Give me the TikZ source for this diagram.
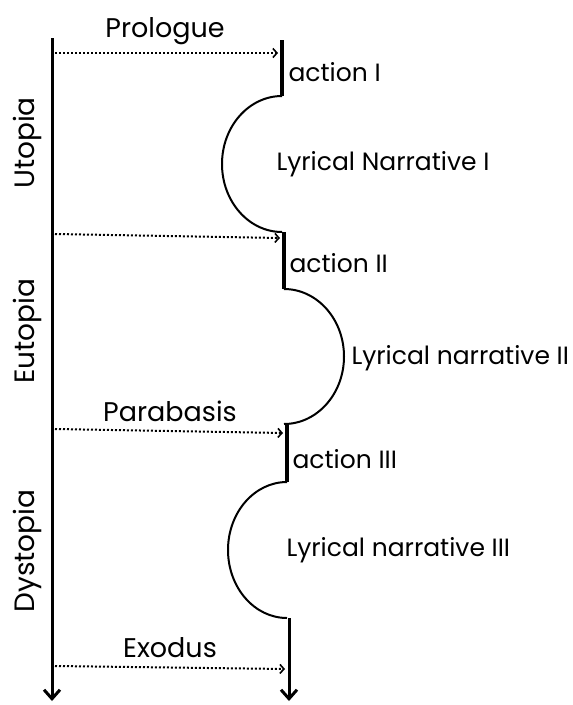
\documentclass[tikz,border=0pt]{standalone}
\usepackage{fontspec}
\setmainfont{Poppins}
\usetikzlibrary{positioning,arrows.meta}

\tikzset{
    axisline/.style={line width=3pt, -{Straight Barb[length=9pt,width=16pt,line width=3pt]}},
    actionbar/.style={line width=4pt},
    lyricarc/.style={line width=2pt},
    cue/.style={line width=2pt, dash pattern=on 2pt off 2pt, -{Straight Barb[length=4pt,width=9pt,line width=1.6pt]}},
    partlabel/.style={font=\fontsize{27}{30}\selectfont},
    sectlabel/.style={font=\fontsize{25}{28}\selectfont, anchor=west},
    agelabel/.style={font=\fontsize{28}{31}\selectfont, rotate=90}
}

\begin{document}
\begin{tikzpicture}[x=1pt,y=-1pt]
        \useasboundingbox (0,0) rectangle (573,705);

        % time axis on the left
        \coordinate (AxisTop) at (52,38);
        \coordinate (AxisEnd) at (52,701);
        \draw[axisline] (AxisTop) -- (AxisEnd);

        \node[agelabel] (Utopia) at (27,143) {Utopia};
        \node[agelabel] (Eutopia) at (27,331) {Eutopia};
        \node[agelabel] (Dystopia) at (27,551) {Dystopia};

        % plot line on the right
        \coordinate (ActA) at (282,40);
        \coordinate (ActAEnd) at (282,96);
        \coordinate (ActB) at (284,232);
        \coordinate (ActBEnd) at (284,289);
        \coordinate (ActC) at (287,424);
        \coordinate (ActCEnd) at (287,482);
        \coordinate (LastLine) at (289,618);
        \coordinate (PlotEnd) at (289,701);

        \draw[actionbar] (ActA) -- (ActAEnd);
        \draw[lyricarc] (ActAEnd) arc[start angle=270, end angle=90, x radius=60, y radius=68];
        \draw[actionbar] (ActB) -- (ActBEnd);
        \draw[lyricarc] (ActBEnd) arc[start angle=-90, end angle=90, x radius=60, y radius=67.5];
        \draw[actionbar] (ActC) -- (ActCEnd);
        \draw[lyricarc] (ActCEnd) arc[start angle=270, end angle=90, x radius=59, y radius=68];
        \draw[axisline] (LastLine) -- (PlotEnd);

        \node[sectlabel] (ActionI) at (285,72) {action I};
        \node[sectlabel] (NarrI) at (273,164) {Lyrical Narrative I};
        \node[sectlabel] (ActionII) at (286,263) {action II};
        \node[sectlabel] (NarrII) at (348,358) {Lyrical narrative II};
        \node[sectlabel] (ActionIII) at (289,459) {action III};
        \node[sectlabel] (NarrIII) at (283,550) {Lyrical narrative III};

        % cues from the axis to the plot
        \coordinate (CueA) at (55,53);
        \coordinate (CueAEnd) at (278,53);
        \coordinate (CueB) at (55,234);
        \coordinate (CueBEnd) at (280,238);
        \coordinate (CueC) at (55,429);
        \coordinate (CueCEnd) at (283,433);
        \coordinate (CueD) at (55,666);
        \coordinate (CueDEnd) at (285,669);

        \draw[cue] (CueA) -- (CueAEnd);
        \draw[cue] (CueB) -- (CueBEnd);
        \draw[cue] (CueC) -- (CueCEnd);
        \draw[cue] (CueD) -- (CueDEnd);

        \node[partlabel] (Prologue) at (165,31) {Prologue};
        \node[partlabel] (Parabasis) at (170,411) {Parabasis};
        \node[partlabel] (Exodus) at (170,648) {Exodus};
    \end{tikzpicture}
\end{document}
